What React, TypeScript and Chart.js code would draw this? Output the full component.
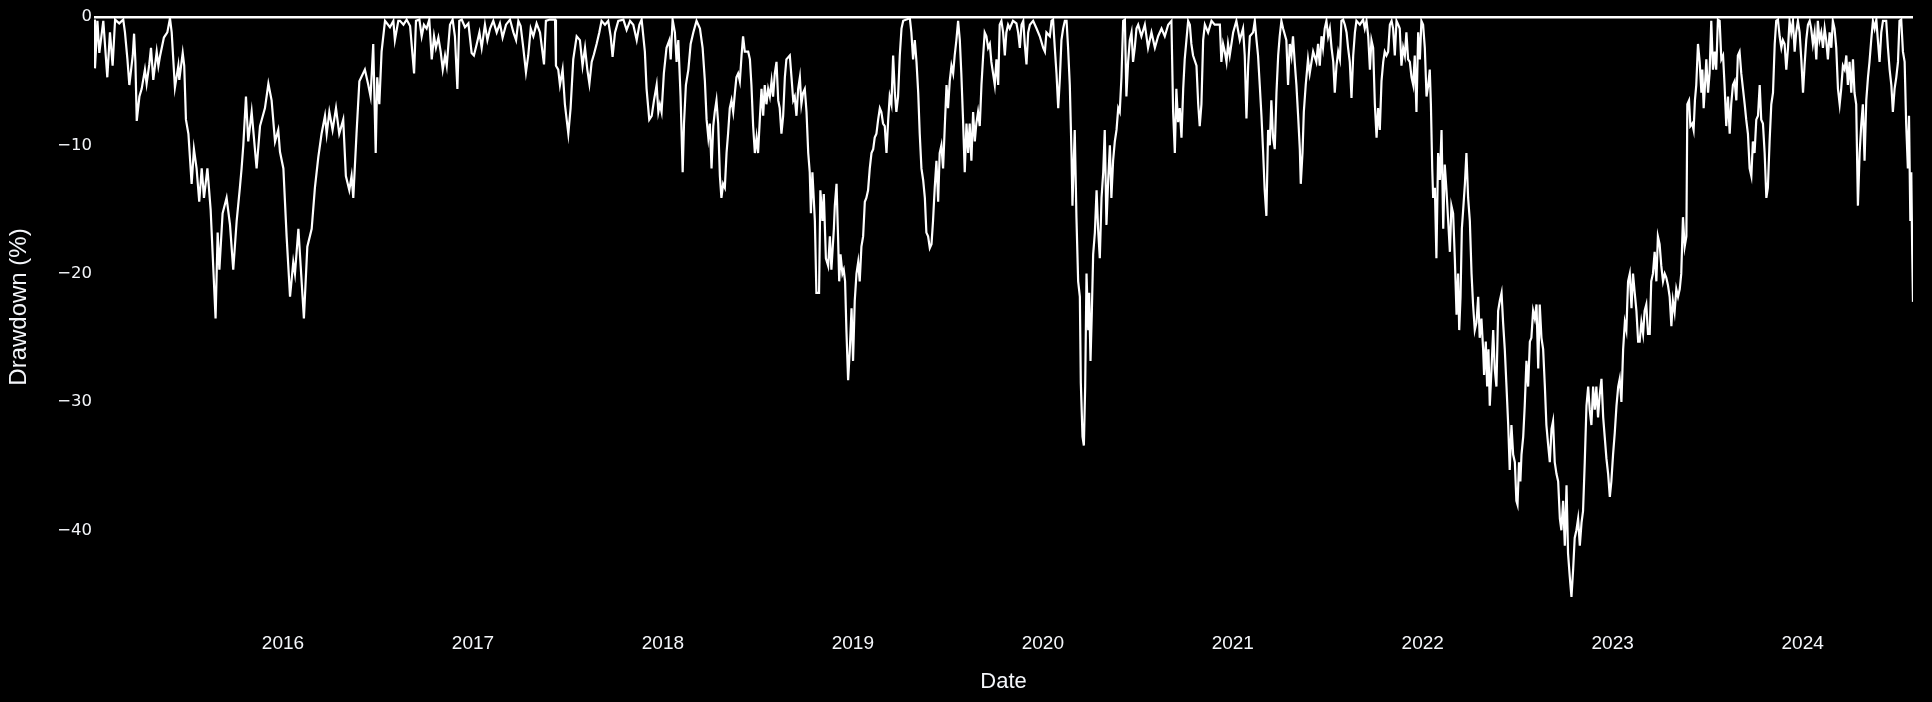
import React, { useEffect, useRef } from "react";
import { Chart, registerables } from "chart.js";

Chart.register(...registerables);

// Dates as decimal years, drawdown in percent
const years: number[] = [
  2015.005, 2015.010, 2015.023, 2015.033, 2015.054, 2015.075, 2015.089, 2015.103, 2015.116, 2015.138, 2015.159, 2015.168, 2015.181, 2015.191, 2015.209, 2015.216, 2015.223, 2015.230, 2015.244, 2015.256, 2015.273, 2015.282, 2015.296, 2015.305, 2015.317, 2015.335, 2015.344, 2015.352, 2015.373, 2015.391, 2015.405, 2015.414, 2015.431, 2015.449, 2015.454, 2015.472, 2015.480, 2015.489, 2015.502, 2015.519, 2015.531, 2015.545, 2015.559, 2015.572, 2015.584, 2015.602, 2015.619, 2015.645, 2015.656, 2015.665, 2015.682, 2015.703, 2015.721, 2015.738, 2015.756, 2015.773, 2015.782, 2015.791, 2015.805, 2015.817, 2015.835, 2015.861, 2015.879, 2015.905, 2015.923, 2015.940, 2015.958, 2015.975, 2015.984,
  2016.002, 2016.019, 2016.037, 2016.054, 2016.063, 2016.081, 2016.093, 2016.110, 2016.128, 2016.151, 2016.168, 2016.186, 2016.203, 2016.221, 2016.230, 2016.244, 2016.261, 2016.279, 2016.296, 2016.317, 2016.331, 2016.349, 2016.361, 2016.370, 2016.387, 2016.402, 2016.431, 2016.449, 2016.461, 2016.475, 2016.488, 2016.496, 2016.507, 2016.519, 2016.537, 2016.563, 2016.581, 2016.589, 2016.607,
  2016.616, 2016.634, 2016.651, 2016.669, 2016.690, 2016.700, 2016.718, 2016.730, 2016.742, 2016.756, 2016.770, 2016.783, 2016.795, 2016.805, 2016.818, 2016.830, 2016.841, 2016.853, 2016.862, 2016.879, 2016.893, 2016.905, 2016.918, 2016.928, 2016.941, 2016.958, 2016.976, 2016.993,
  2017.005, 2017.020, 2017.034, 2017.046, 2017.063, 2017.076, 2017.090, 2017.107, 2017.125, 2017.142, 2017.156, 2017.174, 2017.195, 2017.213, 2017.227, 2017.239, 2017.251, 2017.265, 2017.279, 2017.291, 2017.304, 2017.318, 2017.335, 2017.353, 2017.374, 2017.384, 2017.405, 2017.432, 2017.437, 2017.449, 2017.458, 2017.472, 2017.484, 2017.502, 2017.514, 2017.528, 2017.546, 2017.563, 2017.577, 2017.590, 2017.602, 2017.613, 2017.625, 2017.637, 2017.651, 2017.665, 2017.677, 2017.695, 2017.712, 2017.725, 2017.735, 2017.748, 2017.765, 2017.792, 2017.809, 2017.827, 2017.844, 2017.862, 2017.876, 2017.888, 2017.905, 2017.914, 2017.928, 2017.941, 2017.953, 2017.967, 2017.976, 2017.984, 2017.993,
  2018.005, 2018.019, 2018.034, 2018.041, 2018.051, 2018.063, 2018.072, 2018.081, 2018.093, 2018.104, 2018.111, 2018.121, 2018.134, 2018.146, 2018.160, 2018.177, 2018.195, 2018.209, 2018.221, 2018.230, 2018.239,
  2018.247, 2018.256, 2018.265, 2018.273, 2018.282, 2018.291, 2018.300, 2018.308, 2018.317, 2018.326, 2018.335, 2018.343, 2018.352, 2018.361, 2018.370, 2018.379, 2018.387, 2018.396, 2018.405, 2018.414, 2018.422, 2018.431, 2018.449, 2018.458, 2018.466, 2018.475, 2018.484, 2018.493, 2018.501, 2018.510, 2018.519, 2018.528, 2018.536, 2018.545, 2018.554, 2018.563, 2018.572, 2018.580, 2018.589, 2018.598, 2018.607, 2018.615, 2018.624, 2018.633, 2018.642, 2018.650, 2018.668, 2018.677, 2018.686, 2018.694, 2018.703, 2018.712, 2018.721, 2018.729, 2018.738, 2018.747, 2018.756, 2018.765, 2018.773, 2018.779, 2018.787, 2018.800, 2018.808, 2018.822, 2018.829, 2018.840, 2018.847, 2018.858, 2018.870, 2018.879, 2018.887, 2018.900, 2018.905, 2018.914, 2018.922, 2018.928, 2018.935, 2018.945, 2018.952, 2018.959, 2018.966, 2018.975, 2018.984, 2018.993,
  2019.001, 2019.010, 2019.019, 2019.028, 2019.036, 2019.045, 2019.054, 2019.063, 2019.071, 2019.080, 2019.089, 2019.098, 2019.107, 2019.115, 2019.124, 2019.133, 2019.142, 2019.150, 2019.159, 2019.168, 2019.177, 2019.186, 2019.194, 2019.203, 2019.212, 2019.221, 2019.229, 2019.238, 2019.247, 2019.256, 2019.265, 2019.282, 2019.300, 2019.308, 2019.317, 2019.326, 2019.335, 2019.344, 2019.352, 2019.361, 2019.370, 2019.379, 2019.387, 2019.396, 2019.405, 2019.414, 2019.422, 2019.431, 2019.440, 2019.449, 2019.457, 2019.466, 2019.475, 2019.484, 2019.493, 2019.501, 2019.510, 2019.519, 2019.528, 2019.536, 2019.545, 2019.554, 2019.563, 2019.571, 2019.580, 2019.589, 2019.598, 2019.607, 2019.615, 2019.624, 2019.633, 2019.642, 2019.650, 2019.659, 2019.668, 2019.677, 2019.686, 2019.694, 2019.703, 2019.712, 2019.721, 2019.729, 2019.738, 2019.747, 2019.756, 2019.765, 2019.773, 2019.782, 2019.791, 2019.800, 2019.808, 2019.817, 2019.826, 2019.843, 2019.861, 2019.870,
  2019.879, 2019.888, 2019.897, 2019.905, 2019.914, 2019.923, 2019.932, 2019.949, 2019.967, 2019.984, 2020.002, 2020.011, 2020.019, 2020.037, 2020.046, 2020.054, 2020.063, 2020.072, 2020.081, 2020.090, 2020.098, 2020.107, 2020.116, 2020.125, 2020.133, 2020.142, 2020.151, 2020.156, 2020.163, 2020.168, 2020.177, 2020.186, 2020.195, 2020.200, 2020.209, 2020.216, 2020.223, 2020.230, 2020.239, 2020.244, 2020.251, 2020.258, 2020.265, 2020.274, 2020.283, 2020.291, 2020.300, 2020.309, 2020.318, 2020.326, 2020.335, 2020.344, 2020.353, 2020.361, 2020.370, 2020.379, 2020.388, 2020.397, 2020.405, 2020.414, 2020.423, 2020.432, 2020.440, 2020.449, 2020.458, 2020.467, 2020.475, 2020.484, 2020.493, 2020.502, 2020.519, 2020.537, 2020.554, 2020.572, 2020.590, 2020.607, 2020.625, 2020.642, 2020.660, 2020.677, 2020.686, 2020.695, 2020.703, 2020.712, 2020.721, 2020.730, 2020.739, 2020.747, 2020.756, 2020.765, 2020.774, 2020.782, 2020.791, 2020.809, 2020.818, 2020.826, 2020.835, 2020.844, 2020.853, 2020.870, 2020.888, 2020.905, 2020.932, 2020.940, 2020.949, 2020.958, 2020.967, 2020.975, 2020.984,
  2021.002, 2021.019, 2021.037, 2021.054, 2021.063, 2021.072, 2021.081, 2021.090, 2021.107, 2021.116, 2021.125, 2021.133, 2021.142, 2021.151, 2021.160, 2021.168, 2021.177, 2021.186, 2021.195, 2021.203, 2021.212, 2021.221, 2021.230, 2021.239, 2021.247, 2021.256, 2021.265, 2021.282, 2021.291, 2021.300, 2021.309, 2021.317, 2021.326, 2021.335, 2021.344, 2021.353, 2021.358, 2021.367, 2021.374, 2021.384, 2021.396, 2021.405, 2021.423, 2021.440, 2021.449, 2021.458, 2021.467, 2021.475, 2021.484, 2021.493, 2021.502,
  2021.511, 2021.520, 2021.529, 2021.537, 2021.546, 2021.555, 2021.564, 2021.572, 2021.581, 2021.590, 2021.599, 2021.607, 2021.616, 2021.625, 2021.634, 2021.643, 2021.651, 2021.669, 2021.686, 2021.695, 2021.704, 2021.713, 2021.722, 2021.730, 2021.739, 2021.748, 2021.757, 2021.765, 2021.774, 2021.783, 2021.792, 2021.800, 2021.809, 2021.818, 2021.827, 2021.836, 2021.844, 2021.853, 2021.862, 2021.871, 2021.879, 2021.888, 2021.897, 2021.906, 2021.914, 2021.923, 2021.932, 2021.941, 2021.950, 2021.958, 2021.967, 2021.976, 2021.985, 2021.993,
  2022.002, 2022.011, 2022.020, 2022.029, 2022.037, 2022.043, 2022.050, 2022.055, 2022.064, 2022.072, 2022.081, 2022.090, 2022.099, 2022.108, 2022.116, 2022.125, 2022.134, 2022.143, 2022.151, 2022.160, 2022.169, 2022.178, 2022.186, 2022.192, 2022.199, 2022.206, 2022.213, 2022.222, 2022.230, 2022.239, 2022.248, 2022.257, 2022.265, 2022.274, 2022.283, 2022.292, 2022.300, 2022.309, 2022.318, 2022.323, 2022.332, 2022.339, 2022.346, 2022.353, 2022.362, 2022.371, 2022.379, 2022.388, 2022.397, 2022.406, 2022.415, 2022.423, 2022.432, 2022.441, 2022.450, 2022.458, 2022.467, 2022.476, 2022.485, 2022.493, 2022.499, 2022.507, 2022.514, 2022.520, 2022.529, 2022.537, 2022.546, 2022.555, 2022.564, 2022.572, 2022.581, 2022.590, 2022.599, 2022.608, 2022.616, 2022.625, 2022.634, 2022.643, 2022.651, 2022.660, 2022.669, 2022.678, 2022.686, 2022.695, 2022.704, 2022.713, 2022.722, 2022.730, 2022.739, 2022.748, 2022.757, 2022.765, 2022.774, 2022.783, 2022.792, 2022.800, 2022.809, 2022.818, 2022.827, 2022.836, 2022.844, 2022.853, 2022.862, 2022.871, 2022.879, 2022.888, 2022.897, 2022.906, 2022.914, 2022.923, 2022.932, 2022.941, 2022.950, 2022.958, 2022.967, 2022.976, 2022.985, 2022.993,
  2023.002, 2023.011, 2023.020, 2023.029, 2023.037, 2023.046, 2023.055, 2023.064, 2023.072, 2023.081, 2023.090, 2023.099, 2023.107, 2023.116, 2023.125, 2023.134,
  2023.142, 2023.151, 2023.160, 2023.168, 2023.177, 2023.186, 2023.195, 2023.203, 2023.212, 2023.221, 2023.230, 2023.238, 2023.247, 2023.256, 2023.265, 2023.274, 2023.282, 2023.291, 2023.300, 2023.309, 2023.317, 2023.326, 2023.335, 2023.344, 2023.353, 2023.361, 2023.370, 2023.379, 2023.388, 2023.393, 2023.402, 2023.409, 2023.419, 2023.426, 2023.433, 2023.440, 2023.449, 2023.458, 2023.467, 2023.472, 2023.479, 2023.486, 2023.493, 2023.502, 2023.510, 2023.519, 2023.528, 2023.537, 2023.545, 2023.554, 2023.563, 2023.572, 2023.581, 2023.589, 2023.598, 2023.607, 2023.616, 2023.624, 2023.633, 2023.642, 2023.651, 2023.659, 2023.668, 2023.677, 2023.686, 2023.695, 2023.703, 2023.712, 2023.721, 2023.730, 2023.738, 2023.747, 2023.756, 2023.765, 2023.774, 2023.782, 2023.791, 2023.800, 2023.809, 2023.817, 2023.826, 2023.835, 2023.844, 2023.853, 2023.861, 2023.870, 2023.879, 2023.888, 2023.896, 2023.905, 2023.914, 2023.923, 2023.931, 2023.940, 2023.949, 2023.958, 2023.966, 2023.975, 2023.984, 2023.993,
  2024.002, 2024.010, 2024.019, 2024.028, 2024.037, 2024.045, 2024.054, 2024.063, 2024.072, 2024.080, 2024.089, 2024.098, 2024.107, 2024.116, 2024.124, 2024.133, 2024.142, 2024.151, 2024.159, 2024.168, 2024.177, 2024.186, 2024.195, 2024.203, 2024.212, 2024.221, 2024.230, 2024.238, 2024.247, 2024.256, 2024.265, 2024.273, 2024.282, 2024.291, 2024.300, 2024.309, 2024.317, 2024.326, 2024.335, 2024.344, 2024.352, 2024.361, 2024.370, 2024.379, 2024.388, 2024.396, 2024.405, 2024.414, 2024.423, 2024.440, 2024.449, 2024.458, 2024.467, 2024.475, 2024.484, 2024.493, 2024.502, 2024.510, 2024.519, 2024.528, 2024.537, 2024.545, 2024.554, 2024.560, 2024.567, 2024.572, 2024.577, 2024.581,
];

const drawdown: number[] = [
  -0.2, -4.0, -0.3, -2.8, -0.3, -4.7, -1.2, -3.8, -0.2, -0.5, -0.2, -1.2, -3.3, -5.3, -3.0, -1.3, -3.5, -8.1, -6.2, -5.6, -4.1, -5.2, -3.7, -2.4, -4.9, -2.7, -3.8, -3.1, -1.6, -1.2, -0.1, -1.2, -5.5, -3.8, -4.9, -2.8, -3.8, -8.0, -9.1, -13.0, -10.3, -11.8, -14.4, -11.8, -14.1, -11.8, -15.0, -23.5, -16.8, -19.7, -15.3, -14.1, -16.2, -19.7, -15.9, -13.3, -11.8, -10.0, -6.2, -9.7, -7.4, -11.8, -8.5, -7.1, -5.2, -6.5, -9.7, -8.8, -10.5,
  -11.8, -17.1, -21.8, -19.1, -20.0, -16.5, -19.4, -23.5, -17.9, -16.5, -13.3, -10.9, -9.1, -7.7, -9.1, -7.4, -8.8, -7.1, -9.1, -8.0, -12.4, -13.5, -12.4, -14.1, -9.1, -5.0, -4.1, -5.3, -6.2, -2.1, -10.6, -4.7, -6.8, -2.7, -0.3, -0.8, -0.3, -1.8, -0.3,
  -0.3, -0.6, -0.2, -0.7, -4.4, -0.3, -0.2, -1.5, -0.6, -0.9, -0.2, -3.3, -1.5, -2.4, -1.6, -2.7, -4.1, -3.0, -3.8, -0.6, -0.2, -1.5, -5.6, -0.3, -0.2, -0.8, -0.5, -2.8,
  -3.0, -2.1, -1.2, -2.4, -0.6, -1.8, -0.9, -0.3, -1.2, -0.5, -1.6, -0.6, -0.2, -1.2, -1.8, -0.3, -0.7, -2.4, -4.3, -3.0, -0.9, -1.5, -0.5, -1.2, -3.7, -0.3, -0.2, -0.2, -3.8, -4.1, -5.3, -4.1, -6.8, -9.1, -7.1, -3.3, -1.5, -1.8, -3.8, -2.4, -4.1, -5.2, -3.5, -2.9, -2.1, -1.2, -0.3, -0.6, -0.3, -1.5, -3.1, -1.2, -0.3, -0.2, -1.0, -0.3, -0.6, -1.8, -0.6, -0.2, -2.7, -5.6, -8.0, -7.7, -6.5, -5.3, -7.4, -6.8, -7.4,
  -4.4, -2.4, -1.8, -3.3, -0.2, -1.2, -3.5, -1.8, -6.2, -12.1, -8.3, -5.3, -4.1, -2.1, -1.2, -0.3, -0.9, -2.4, -5.0, -8.0, -9.4,
  -8.3, -11.8, -8.5, -7.4, -6.5, -8.3, -12.4, -14.1, -13.0, -13.3, -10.6, -9.1, -7.1, -6.5, -7.4, -5.9, -4.7, -4.4, -5.0, -3.0, -1.5, -2.7, -2.7, -3.3, -5.3, -8.5, -10.6, -9.4, -10.6, -8.0, -5.6, -7.7, -5.3, -6.8, -5.6, -6.2, -5.0, -6.2, -4.4, -3.5, -6.5, -7.1, -9.1, -7.7, -4.7, -3.3, -3.0, -4.7, -6.5, -6.2, -7.7, -5.6, -4.7, -6.8, -5.9, -5.6, -7.4, -10.6, -12.1, -15.3, -12.1, -15.9, -21.5, -21.5, -13.5, -15.9, -13.8, -18.8, -19.4, -17.1, -19.7, -16.5, -14.7, -13.0, -17.1, -20.6, -18.5, -20.0, -19.7, -20.6, -24.4, -28.3, -25.9, -22.7,
  -26.8, -22.1, -20.0, -19.1, -20.6, -17.9, -17.1, -14.4, -14.1, -13.5, -11.8, -10.6, -10.3, -9.4, -9.1, -8.0, -7.1, -7.4, -8.3, -8.5, -10.6, -8.0, -6.2, -6.8, -3.0, -5.9, -7.4, -6.2, -3.0, -0.9, -0.3, -0.2, -0.1, -1.2, -3.3, -1.8, -3.5, -5.9, -9.1, -11.8, -12.7, -14.1, -16.8, -17.1, -18.0, -17.7, -15.9, -13.3, -11.2, -14.4, -10.6, -10.0, -11.8, -8.5, -5.3, -7.1, -5.0, -3.8, -4.4, -3.0, -1.8, -0.3, -1.8, -4.4, -8.0, -12.1, -8.3, -10.6, -8.3, -11.2, -7.4, -9.7, -8.3, -7.4, -8.5, -5.3, -3.0, -1.2, -1.5, -2.4, -2.1, -3.5, -4.4, -5.3, -3.3, -5.3, -0.6, -0.3, -1.2, -3.0, -1.2, -0.6, -0.9, -0.3, -0.5, -1.2,
  -2.4, -0.6, -0.3, -2.1, -3.7, -1.2, -0.6, -0.3, -0.9, -1.5, -2.4, -2.7, -1.2, -1.5, -0.3, -0.2, -2.4, -4.4, -7.1, -4.7, -1.8, -0.9, -0.3, -0.3, -2.4, -5.3, -10.6, -14.7, -11.2, -8.8, -15.6, -20.6, -21.8, -28.5, -32.7, -33.4, -28.8, -20.0, -24.4, -21.5, -26.8, -23.0, -18.5, -16.8, -13.5, -16.5, -18.8, -14.1, -12.1, -8.8, -16.2, -12.7, -10.0, -14.1, -11.2, -9.7, -8.8, -7.1, -7.4, -4.7, -0.3, -0.2, -6.2, -3.5, -1.8, -1.2, -3.5, -2.4, -0.9, -0.6, -1.5, -0.6, -2.4, -1.2, -2.4, -1.5, -0.9, -1.5, -0.6, -0.3, -7.4, -10.6, -5.6, -8.2, -7.1, -9.4, -5.6, -3.3, -1.8, -0.3, -0.6, -2.1, -3.0, -3.8, -6.8, -8.5, -6.8, -1.8, -0.6, -1.2, -0.3, -0.6, -0.6, -3.5, -2.1, -2.7, -3.5, -2.1, -3.0,
  -1.2, -0.3, -1.8, -0.9, -3.0, -7.9, -3.8, -1.5, -1.2, -0.3, -1.8, -3.0, -5.3, -7.7, -10.6, -13.5, -15.5, -8.8, -10.0, -6.5, -9.4, -10.3, -5.9, -3.0, -1.5, -0.3, -0.9, -1.8, -5.3, -2.1, -3.0, -1.5, -3.5, -5.3, -7.7, -10.3, -13.0, -10.6, -7.4, -5.3, -3.3, -4.4, -2.7, -3.5, -2.1, -3.8, -1.5, -2.4, -0.9, -0.3, -1.5,
  -0.9, -2.4, -3.5, -5.9, -3.8, -2.7, -3.3, -0.3, -0.2, -0.6, -1.2, -2.4, -3.5, -6.3, -3.0, -1.2, -0.3, -0.6, -0.2, -0.9, -0.3, -1.5, -4.1, -1.8, -2.4, -6.8, -9.4, -7.1, -8.8, -5.0, -3.5, -2.7, -3.0, -2.7, -0.6, -0.3, -0.9, -3.0, -0.3, -0.6, -0.9, -3.8, -2.4, -3.0, -1.2, -3.3, -3.5, -4.7, -5.3, -3.0, -7.4, -1.2, -3.3, -0.3,
  -0.6, -2.4, -6.2, -5.3, -4.1, -6.8, -11.8, -14.1, -13.3, -18.8, -10.6, -12.7, -8.8, -16.5, -11.5, -13.5, -15.9, -18.3, -14.7, -15.3, -18.8, -23.2, -20.0, -24.4, -21.8, -16.5, -15.0, -13.0, -10.6, -14.1, -15.9, -20.0, -22.4, -24.4, -23.8, -21.8, -25.0, -23.5, -25.9, -27.9, -25.3, -28.8, -25.9, -30.3, -27.4, -24.4, -27.4, -28.8, -22.9, -22.1, -21.5, -23.8, -25.9, -28.8, -31.8, -35.3, -31.8, -34.1, -34.7, -37.7, -38.0, -34.7, -36.2, -34.1, -32.7, -30.3, -26.8, -28.8, -25.3, -25.0, -22.9, -23.5, -22.4, -27.4, -22.4, -25.0, -25.9, -28.8, -31.8, -33.3, -34.7, -32.1, -31.5, -34.7, -35.6, -36.2, -39.1, -40.0, -37.7, -41.2, -36.5, -41.8, -43.6, -45.2, -43.0, -40.6, -40.0, -39.1, -41.2, -39.4, -38.5, -34.7, -30.3, -28.8, -30.6, -31.8, -28.8, -30.6, -28.8, -31.2, -29.4, -28.2, -31.2, -32.7, -34.4, -35.6, -37.4, -36.2,
  -34.1, -32.4, -30.3, -28.8, -28.2, -30.0, -25.9, -23.8, -24.4, -20.6, -20.0, -22.7, -20.0, -21.5, -22.9, -25.3,
  -25.3, -23.8, -24.7, -22.9, -22.4, -24.7, -24.7, -20.6, -20.0, -18.3, -20.6, -17.1, -17.7, -19.4, -20.6, -20.0, -20.3, -20.9, -21.8, -24.1, -22.1, -23.0, -21.2, -21.8, -21.2, -20.0, -15.6, -17.9, -17.1, -6.8, -6.5, -8.5, -8.3, -8.8, -6.5, -5.3, -2.1, -3.5, -5.9, -4.1, -7.1, -5.3, -3.3, -5.9, -4.4, -0.3, -4.1, -2.7, -4.1, -0.2, -0.3, -3.3, -3.0, -5.3, -8.5, -6.2, -9.1, -6.8, -5.3, -5.0, -6.5, -3.0, -2.7, -4.4, -5.6, -6.8, -8.0, -9.1, -11.8, -12.4, -9.7, -10.6, -8.0, -7.7, -5.3, -8.0, -8.3, -10.6, -14.1, -13.3, -9.7, -6.8, -5.9, -2.1, -0.3, -0.2, -1.5, -2.4, -1.8, -2.1, -4.1, -2.4, -0.3, -1.2, -0.3, -2.7, -1.2, -0.3, -1.2, -3.3,
  -5.9, -3.8, -1.8, -0.6, -0.3, -0.9, -2.1, -1.2, -3.3, -0.3, -1.8, -1.2, -2.4, -0.9, -1.8, -3.3, -1.2, -2.4, -0.3, -0.9, -2.4, -5.6, -6.8, -5.6, -3.8, -4.1, -3.0, -5.3, -3.5, -5.9, -3.3, -5.9, -6.8, -14.7, -10.6, -8.3, -6.8, -11.2, -6.5, -4.7, -3.5, -1.8, -0.3, -0.9, -0.2, -1.8, -3.5, -1.2, -0.3, -0.3, -2.4, -4.1, -5.3, -7.4, -5.6, -4.7, -3.5, -0.3, -0.2, -2.7, -3.5, -8.3, -11.8, -7.7, -15.9, -12.1, -18.5, -22.2,
];

const yearTicks: number[] = [2016, 2017, 2018, 2019, 2020, 2021, 2022, 2023, 2024];
const valueTicks: number[] = [0, -10, -20, -30, -40];

const TEXT = "#f4f6fa";
const SANS = '"Liberation Sans", Arial, sans-serif';

export default function App() {
  const ref = useRef<HTMLCanvasElement>(null);

  useEffect(() => {
    document.body.style.margin = "0";
    document.body.style.background = "#000";
    const canvas = ref.current;
    if (!canvas) return;
    const points = years.map((x, i) => ({ x, y: drawdown[i] }));
    const chart = new Chart(canvas, {
      type: "line",
      data: {
        datasets: [
          {
            data: points,
            borderColor: "#ffffff",
            borderWidth: 2.2,
            pointRadius: 0,
            tension: 0,
            fill: false,
          },
        ],
      },
      options: {
        responsive: false,
        animation: false,
        devicePixelRatio: 1,
        layout: { padding: { left: 0, top: 17, right: 19, bottom: 0 } },
        plugins: { legend: { display: false }, tooltip: { enabled: false } },
        scales: {
          x: {
            type: "linear",
            min: years[0],
            max: years[years.length - 1],
            afterBuildTicks: (s: any) => {
              s.ticks = yearTicks.map((v) => ({ value: v }));
            },
            afterFit: (s: any) => {
              s.height = 105;
            },
            grid: { display: false, drawTicks: false },
            border: { display: false },
            ticks: {
              color: TEXT,
              font: { family: SANS, size: 19 },
              padding: 35,
              maxRotation: 0,
              autoSkip: false,
              callback: (v: any) => String(v),
            },
            title: {
              display: true,
              text: "Date",
              color: TEXT,
              font: { family: SANS, size: 22 },
              padding: { top: 0, bottom: 7 },
            },
          },
          y: {
            type: "linear",
            min: Math.min(...drawdown),
            max: 0,
            afterBuildTicks: (s: any) => {
              s.ticks = valueTicks.map((v) => ({ value: v }));
            },
            afterFit: (s: any) => {
              s.width = 94;
            },
            grid: {
              color: (c: any) => (c.tick && c.tick.value === 0 ? "#ffffff" : "rgba(0,0,0,0)"),
              lineWidth: 2.5,
              drawTicks: false,
            },
            border: { display: false },
            ticks: {
              color: TEXT,
              font: { family: '"DejaVu Sans", Verdana, sans-serif', size: 16.5 },
              padding: 2,
              callback: (v: any) => (Number(v) < 0 ? "\u2212" + Math.abs(Number(v)) : String(v)),
            },
            title: {
              display: true,
              text: "Drawdown (%)",
              color: TEXT,
              font: { family: SANS, size: 24 },
              padding: { top: 5, bottom: 0 },
            },
          },
        },
      },
    });
    return () => chart.destroy();
  }, []);

  return (
    <div style={{ background: "#000", width: 1932, height: 702 }}>
      <canvas ref={ref} width={1932} height={702} style={{ display: "block" }} />
    </div>
  );
}
